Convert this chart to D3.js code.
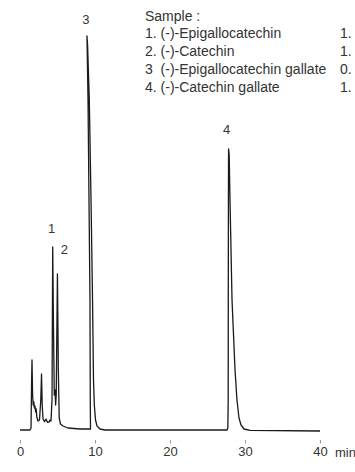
<!DOCTYPE html>
<html>
<head>
<meta charset="utf-8">
<script src="https://cdn.jsdelivr.net/npm/d3@7"></script>
<style>
  body { margin: 0; background: #fff; }
  svg { display: block; font-family: "Liberation Sans", Arial, sans-serif; }
  .c-text { fill: #333; }
</style>
</head>
<body>
<svg class="js-render-chart" width="355" height="472"></svg>
<script>
"use strict";

//data

const times = [0, 1.33, 1.47, 1.55, 1.6, 1.68, 1.76, 1.84, 1.92, 2.0, 2.08, 2.16, 2.24, 2.4, 2.6, 2.77, 2.87, 2.96, 3.07, 3.27, 3.47, 3.67, 3.87, 4.0, 4.13, 4.27, 4.36, 4.47, 4.57, 4.67, 4.75, 4.83, 4.99, 5.11, 5.23, 5.4, 5.73, 6.4, 8.0, 9.4, 9.37, 9.33, 9.2, 9.07, 8.93, 9.01, 9.24, 9.47, 9.67, 9.8, 9.91, 10.07, 10.27, 10.67, 11.33, 27.6, 27.71, 27.76, 27.77, 27.79, 27.81, 27.89, 28.0, 28.27, 28.67, 28.93, 29.2, 29.47, 29.87, 30.67, 40.0];
const signal = [0, 0, 0.5, 12.5, 17.5, 8.75, 6.25, 7, 5.5, 6, 4.5, 5.25, 3.25, 2.25, 2.5, 7.5, 14, 6.25, 2.75, 2.1, 2.75, 1.9, 2, 2.5, 2.25, 7.5, 45.75, 25, 8.75, 10, 6.25, 8.75, 39, 15, 3, 1.5, 1, 0.5, 0.25, 0.25, 7.5, 32.5, 57.5, 82.5, 98.5, 96.25, 82.5, 57.5, 32.5, 12.5, 6.25, 2.5, 1, 0.25, 0, 0, 0.5, 7.5, 32.5, 57.5, 70.25, 68.75, 57.5, 32.5, 15, 7.5, 3, 1.25, 0.25, -0.1, -0.25];

const peakLabels = ["1", "2", "3", "4"];
const peakTimes = [4.36, 4.99, 8.93, 27.81];
const peakHeights = [45.75, 39, 98.5, 70.25];

const sampleNumbers = ["1.", "2.", "3 ", "4."];
const sampleNames = ["(-)-Epigallocatechin", "(-)-Catechin", "(-)-Epigallocatechin gallate", "(-)-Catechin gallate"];
const sampleConc = ["1.", "1.", "0.", "1."];

const xTicks = [0, 10, 20, 30, 40];

//scales

const x = d3.scaleLinear().domain([0, 40]).range([20, 320]);
const y = d3.scaleLinear().domain([0, 100]).range([430, 30]);

const svg = d3.select(".js-render-chart");

//axis

const xa = d3.axisBottom(x)
  .tickValues(xTicks)
  .tickFormat(d3.format("d"))
  .tickSize(3.5)
  .tickPadding(3.5);

const axis = svg.append("g")
  .attr("transform", "translate(0, 440)")
  .call(xa);

axis.select(".domain").remove();
axis.selectAll(".tick line").attr("stroke", "#999");
axis.selectAll(".tick text")
  .attr("class", "c-text")
  .style("font-size", "13px")
  .style("font-family", "inherit");

svg.append("text")
  .attr("class", "c-text")
  .attr("x", x(40) + 15)
  .attr("y", 457)
  .style("font-size", "13px")
  .text("min");

//trace

const line = d3.line()
  .x((d, i) => x(times[i]))
  .y(d => y(d));

svg.append("path")
  .datum(signal)
  .attr("fill", "none")
  .attr("stroke", "#1a1a1a")
  .attr("stroke-width", 1.3)
  .attr("stroke-linejoin", "round")
  .attr("d", line);

//peak labels

const nudge = [[-1, -14], [7, -20], [-1, -12], [-2, -15]];

svg.selectAll(".peak")
  .data(peakLabels)
  .enter()
  .append("text")
  .attr("class", "c-text")
  .attr("x", (d, i) => x(peakTimes[i]) + nudge[i][0])
  .attr("y", (d, i) => y(peakHeights[i]) + nudge[i][1])
  .attr("text-anchor", "middle")
  .style("font-size", "13px")
  .text(d => d);

//sample list

const list = svg.append("g")
  .attr("class", "c-text")
  .style("font-size", "14px");

list.append("text")
  .attr("x", 145)
  .attr("y", 21)
  .text("Sample :");

sampleNames.forEach((name, i) => {
  const yy = 38 + i * 18;
  list.append("text")
    .attr("x", 145)
    .attr("y", yy)
    .attr("xml:space", "preserve")
    .style("white-space", "pre")
    .text(`${sampleNumbers[i]} ${name}`);
  list.append("text")
    .attr("x", 340)
    .attr("y", yy)
    .text(sampleConc[i]);
});
</script>
</body>
</html>
